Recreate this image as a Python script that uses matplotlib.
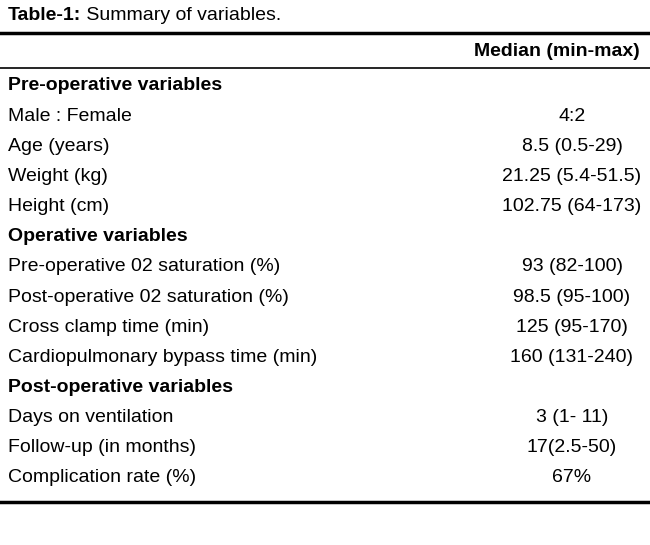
import matplotlib
matplotlib.use("Agg")
import matplotlib.pyplot as plt
from matplotlib import font_manager

names = {f.name for f in font_manager.fontManager.ttflist}
fam = ['Liberation Sans Narrow'] if 'Liberation Sans Narrow' in names else ['Liberation Sans']
plt.rcParams['font.family'] = fam + ['DejaVu Sans']

title_bold = "Table-1:"
title_rest = " Summary of variables."
header = "Median (min-max)"
labels = ["Pre-operative variables", "Male : Female", "Age (years)", "Weight (kg)", "Height (cm)",
          "Operative variables", "Pre-operative 02 saturation (%)", "Post-operative 02 saturation (%)",
          "Cross clamp time (min)", "Cardiopulmonary bypass time (min)",
          "Post-operative variables", "Days on ventilation", "Follow-up (in months)", "Complication rate (%)"]
values = ["", "4:2", "8.5 (0.5-29)", "21.25 (5.4-51.5)", "102.75 (64-173)",
          "", "93 (82-100)", "98.5 (95-100)", "125 (95-170)", "160 (131-240)",
          "", "3 (1- 11)", "17(2.5-50)", "67%"]
is_section = [True, False, False, False, False, True, False, False, False, False, True, False, False, False]

W, H = 650, 545
fig = plt.figure(figsize=(6.5, 5.45), dpi=100)
ax = fig.add_axes([0, 0, 1, 1])
ax.set_xlim(0, W); ax.set_ylim(H, 0); ax.axis('off')

fs = 14
t = ax.text(8, 15, title_bold, fontsize=fs, fontweight='bold', va='center', ha='left')
fig.canvas.draw()
bb = t.get_window_extent()
ax.text(8 + bb.width, 15, title_rest, fontsize=fs, va='center', ha='left')

ax.plot([0, W], [33, 33], color='black', lw=2.5)
ax.text(557, 51, header, fontsize=fs, fontweight='bold', va='center', ha='center')
ax.plot([0, W], [68, 68], color='black', lw=1.2)

y0, dy = 86, 30.15
for i, (lab, val, sec) in enumerate(zip(labels, values, is_section)):
    y = y0 + i * dy
    ax.text(8, y, lab, fontsize=fs, fontweight='bold' if sec else 'normal', va='center', ha='left')
    if val:
        ax.text(572, y, val, fontsize=fs, va='center', ha='center')
ax.plot([0, W], [502, 502], color='black', lw=2.5)

fig.savefig("out.png", dpi=100)
